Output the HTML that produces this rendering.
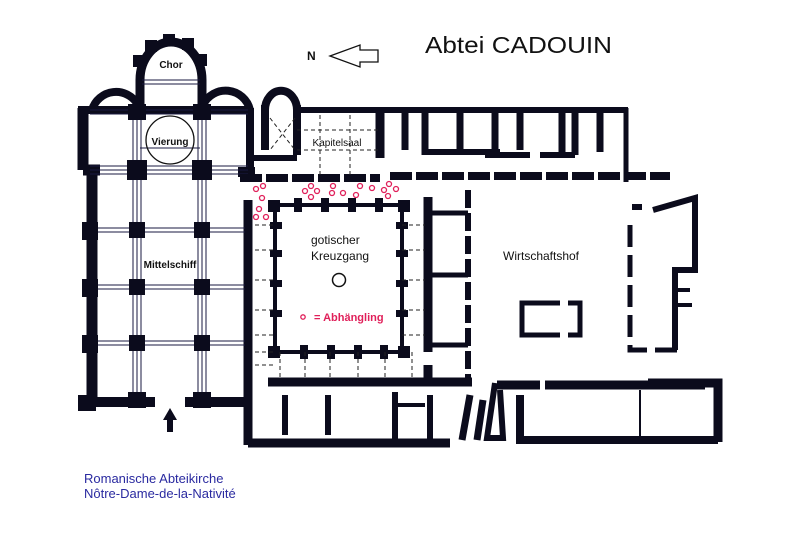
<!DOCTYPE html>
<html><head><meta charset="utf-8"><style>
html,body{margin:0;padding:0;background:#fff;}
svg{display:block}
text{font-family:"Liberation Sans",sans-serif;}
</style></head><body>
<svg width="800" height="533" viewBox="0 0 800 533" xmlns="http://www.w3.org/2000/svg">
<rect width="800" height="533" fill="#fff"/>
<g stroke="#0b0b1c" fill="none" stroke-linecap="butt">
<!-- Church apses -->
<path d="M140 108 V80 A31 38 0 0 1 202 80 V108" stroke-width="9"/>
<path d="M92 110 A25 25 0 0 1 138 105" stroke-width="8"/>
<path d="M203 105 A25 25 0 0 1 250 110" stroke-width="8"/>
<!-- transept top -->
<path d="M78 110 H250" stroke-width="8"/>
<!-- left walls -->
<path d="M83 108 V170 M92 165 V405" stroke-width="11"/>
<path d="M83 170 H100" stroke-width="11"/>
<!-- right transept wall -->
<path d="M250 108 V175" stroke-width="8"/>
<path d="M238 172 H255" stroke-width="10"/>
<!-- bottom wall -->
<path d="M80 402 H155 M185 402 H250" stroke-width="10"/>
<!-- church right wall -->
<path d="M248 200 V445" stroke-width="9"/>
</g>
<!-- piers grid lines -->
<g stroke="#1a1a40" stroke-width="1">
<path d="M133 112 V398 M137 112 V398 M141 112 V398 M198 112 V398 M202 112 V398 M206 112 V398"/>
<path d="M90 110 H248 M90 114 H248 M90 166 H248 M90 170 H248 M90 174 H248 M92 228 H245 M92 232 H245 M92 285 H245 M92 289 H245 M92 341 H245 M92 345 H245 M140 148 H200 M142 80 H200 M142 84 H200"/>
</g>
<g fill="#0b0b1c">
<rect x="128" y="104" width="18" height="16"/><rect x="193" y="104" width="18" height="16"/>
<rect x="127" y="160" width="20" height="20"/><rect x="192" y="160" width="20" height="20"/>
<rect x="129" y="222" width="16" height="16"/><rect x="194" y="222" width="16" height="16"/>
<rect x="129" y="279" width="16" height="16"/><rect x="194" y="279" width="16" height="16"/>
<rect x="129" y="335" width="16" height="16"/><rect x="194" y="335" width="16" height="16"/>
<rect x="128" y="392" width="18" height="16"/><rect x="193" y="392" width="18" height="16"/>
<rect x="82" y="222" width="16" height="18"/><rect x="82" y="279" width="16" height="18"/><rect x="82" y="335" width="16" height="18"/>
<rect x="78" y="395" width="18" height="16"/>
<!-- apse buttresses -->
<rect x="133" y="55" width="12" height="12"/><rect x="145" y="40" width="12" height="12"/><rect x="163" y="34" width="12" height="12"/><rect x="182" y="38" width="12" height="12"/><rect x="195" y="54" width="12" height="12"/>
<!-- arrow -->
<polygon points="170,408 163,420 167,420 167,432 173,432 173,420 177,420"/>
</g>
<circle cx="170" cy="140" r="24" fill="none" stroke="#111" stroke-width="1.3"/>

<g stroke="#0b0b1c" fill="none">
<path d="M265 110 A15 18 0 0 1 297 110" stroke-width="8"/>
<path d="M265 105 V150 M297 105 V155" stroke-width="8"/>
<path d="M297 110 H628" stroke-width="6"/>
<path d="M250 158 H297" stroke-width="6"/>
<path d="M380 110 V158" stroke-width="9"/>
<path d="M405 112 V150 M425 112 V155 M460 110 V152 M495 110 V155 M520 112 V150 M562 110 V152 M575 110 V155 M600 110 V152" stroke-width="7"/>
<path d="M425 152 H470 M445 152 H500 M485 155 H530 M540 155 H575" stroke-width="6"/>
<path d="M626 108 V182" stroke-width="5"/>
<path d="M240 178 H380 M390 176 H670" stroke-width="8" stroke-dasharray="22,4"/>
<path d="M275 205 H402 V352 H275 Z" stroke-width="4"/>
<path d="M428 197 V352 M428 365 V385" stroke-width="9"/>
<path d="M268 382 H472" stroke-width="9"/>
<path d="M428 213 H468 M428 275 H468 M428 345 H468" stroke-width="5"/>
<path d="M468 190 V385" stroke-width="6" stroke-dasharray="18,5"/>
<path d="M248 443 H450" stroke-width="9"/>
<path d="M285 395 V435 M328 395 V435 M395 392 V440" stroke-width="6"/>
<path d="M393 405 H425" stroke-width="4"/>
<path d="M430 395 V443" stroke-width="6"/>
<path d="M470 395 L462 440 M483 400 L477 440" stroke-width="7"/>
<path d="M495 383 L487 438 H503 L500 390" stroke-width="6"/>
<path d="M497 385 H540 M545 385 H705 M648 383 H718 V442" stroke-width="9"/>
<path d="M520 395 V440 H718" stroke-width="8"/>
<path d="M640 390 V440" stroke-width="2"/>
<path d="M632 207 H642" stroke-width="6"/>
<path d="M630 225 V350 H680" stroke-width="5" stroke-dasharray="22,8"/>
<path d="M653 210 L695 198 V270 H675 V350" stroke-width="6"/>
<path d="M675 290 H690 M675 305 H692" stroke-width="4"/>
<path d="M560 303 H522 V335 H560 M568 303 H580 V335 H568" stroke-width="5"/>
</g>
<g fill="#0b0b1c">
<rect x="268" y="200" width="12" height="12"/><rect x="398" y="200" width="12" height="12"/><rect x="268" y="346" width="12" height="12"/><rect x="398" y="346" width="12" height="12"/>
<rect x="294" y="198" width="8" height="14"/><rect x="321" y="198" width="8" height="14"/><rect x="348" y="198" width="8" height="14"/><rect x="375" y="198" width="8" height="14"/>
<rect x="300" y="345" width="8" height="14"/><rect x="327" y="345" width="8" height="14"/><rect x="354" y="345" width="8" height="14"/><rect x="380" y="345" width="8" height="14"/>
<rect x="270" y="222" width="12" height="7"/><rect x="270" y="250" width="12" height="7"/><rect x="270" y="280" width="12" height="7"/><rect x="270" y="310" width="12" height="7"/>
<rect x="396" y="222" width="12" height="7"/><rect x="396" y="250" width="12" height="7"/><rect x="396" y="280" width="12" height="7"/><rect x="396" y="310" width="12" height="7"/>
</g>
<g stroke="#222" stroke-width="1" stroke-dasharray="4,3" fill="none">
<path d="M255 225 H275 M255 250 H275 M255 280 H275 M255 310 H275 M255 335 H275"/>
<path d="M402 225 H425 M402 250 H425 M402 280 H425 M402 310 H425 M402 335 H425"/>
<path d="M280 352 V380 M305 352 V380 M330 352 V380 M358 352 V380 M385 352 V380 M412 352 V380"/>
<path d="M255 352 H275 M255 365 H275"/>
<path d="M320 115 V178 M350 115 V178 M297 130 H380 M297 150 H380"/>
<path d="M270 118 L295 150 M295 118 L270 150"/>
</g>
<g fill="none" stroke="#e0205a" stroke-width="1.3">
<circle cx="256" cy="189" r="2.5"/><circle cx="263" cy="186" r="2.5"/><circle cx="262" cy="198" r="2.5"/><circle cx="259" cy="209" r="2.5"/><circle cx="256" cy="217" r="2.5"/><circle cx="266" cy="217" r="2.5"/>
<circle cx="305" cy="191" r="2.5"/><circle cx="311" cy="186" r="2.5"/><circle cx="317" cy="191" r="2.5"/><circle cx="311" cy="197" r="2.5"/>
<circle cx="333" cy="186" r="2.5"/><circle cx="332" cy="193" r="2.5"/><circle cx="343" cy="193" r="2.5"/>
<circle cx="360" cy="186" r="2.5"/><circle cx="356" cy="195" r="2.5"/><circle cx="372" cy="188" r="2.5"/>
<circle cx="384" cy="190" r="2.5"/><circle cx="389" cy="184" r="2.5"/><circle cx="396" cy="189" r="2.5"/><circle cx="388" cy="196" r="2.5"/>
<circle cx="303" cy="317" r="2.2"/>
</g>
<circle cx="339" cy="280" r="6.5" fill="none" stroke="#111" stroke-width="1.5"/>
<text x="307" y="60" font-size="12" font-weight="bold" fill="#111">N</text>
<path d="M330 56 L360 45 V50 H378 V62 H360 V67 Z" fill="none" stroke="#111" stroke-width="1.3"/>
<text x="425" y="53" font-size="23" fill="#111" textLength="187" lengthAdjust="spacingAndGlyphs">Abtei CADOUIN</text>
<text x="171" y="68" font-size="10" font-weight="bold" fill="#111" text-anchor="middle">Chor</text>
<text x="170" y="145" font-size="10" font-weight="bold" fill="#111" text-anchor="middle">Vierung</text>
<text x="170" y="268" font-size="10" font-weight="bold" fill="#111" text-anchor="middle">Mittelschiff</text>
<text x="337" y="146" font-size="10" fill="#111" text-anchor="middle">Kapitelsaal</text>
<text x="311" y="244" font-size="12" fill="#111">gotischer</text>
<text x="311" y="260" font-size="12" fill="#111">Kreuzgang</text>
<text x="503" y="260" font-size="12" fill="#111">Wirtschaftshof</text>
<text x="314" y="321" font-size="11" font-weight="bold" fill="#e0205a">= Abhängling</text>
<text x="84" y="483" font-size="13" fill="#2a2aa0">Romanische Abteikirche</text>
<text x="84" y="498" font-size="13" fill="#2a2aa0">Nôtre-Dame-de-la-Nativité</text>
</svg>
</body></html>
